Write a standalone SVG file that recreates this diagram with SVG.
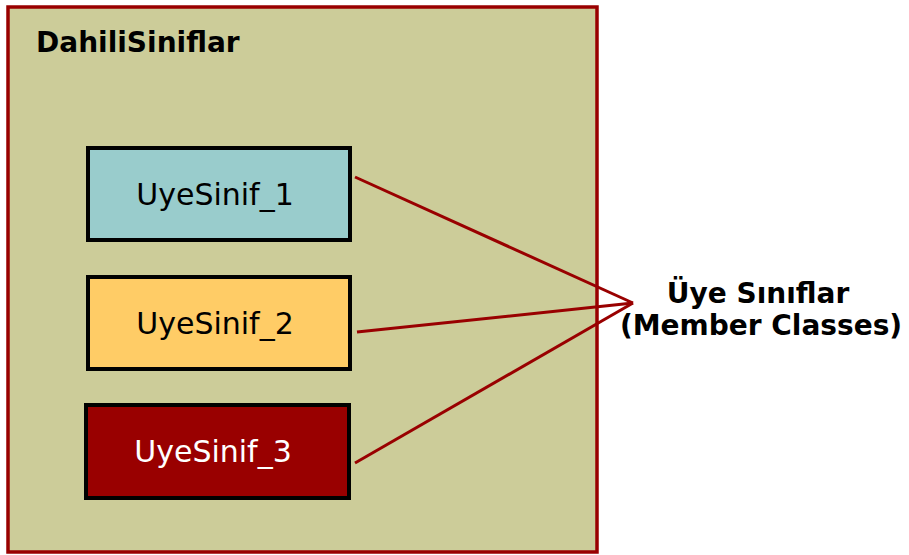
<svg xmlns="http://www.w3.org/2000/svg" width="909" height="555" viewBox="0 0 909 555">
<style>
.box{stroke:#000;stroke-width:4}
.lbl{font-family:"DejaVu Sans",Verdana,sans-serif;font-size:30px;text-anchor:middle}
.bold{font-family:"DejaVu Sans","Liberation Sans",sans-serif;font-weight:bold;font-size:28px;fill:#000}
.conn{stroke:#990000;stroke-width:3;fill:none}
</style>
<rect width="909" height="555" fill="#fff"/>
<g id="container">
<rect x="8" y="7" width="589" height="545" fill="#CCCC99" stroke="#990000" stroke-width="3.5"/>
<text class="bold" x="36" y="52">DahiliSiniflar</text>
</g>
<g id="uye1">
<rect class="box" x="88" y="148" width="262" height="92" fill="#99CCCC"/>
<text class="lbl" x="215" y="205" fill="#000">UyeSinif_1</text>
</g>
<g id="uye2">
<rect class="box" x="88" y="277" width="262" height="92" fill="#FFCC66"/>
<text class="lbl" x="215" y="334" fill="#000">UyeSinif_2</text>
</g>
<g id="uye3">
<rect class="box" x="86" y="405" width="263" height="93" fill="#990000"/>
<text class="lbl" x="213" y="462" fill="#fff">UyeSinif_3</text>
</g>
<g id="connectors">
<polyline class="conn" points="355,177 633,303"/>
<polyline class="conn" points="357,332 633,303"/>
<polyline class="conn" points="355,463 633,303"/>
</g>
<g id="label">
<text class="bold" x="758" y="303" text-anchor="middle">Üye Sınıflar</text>
<text class="bold" x="761" y="335" text-anchor="middle">(Member Classes)</text>
</g>
</svg>
